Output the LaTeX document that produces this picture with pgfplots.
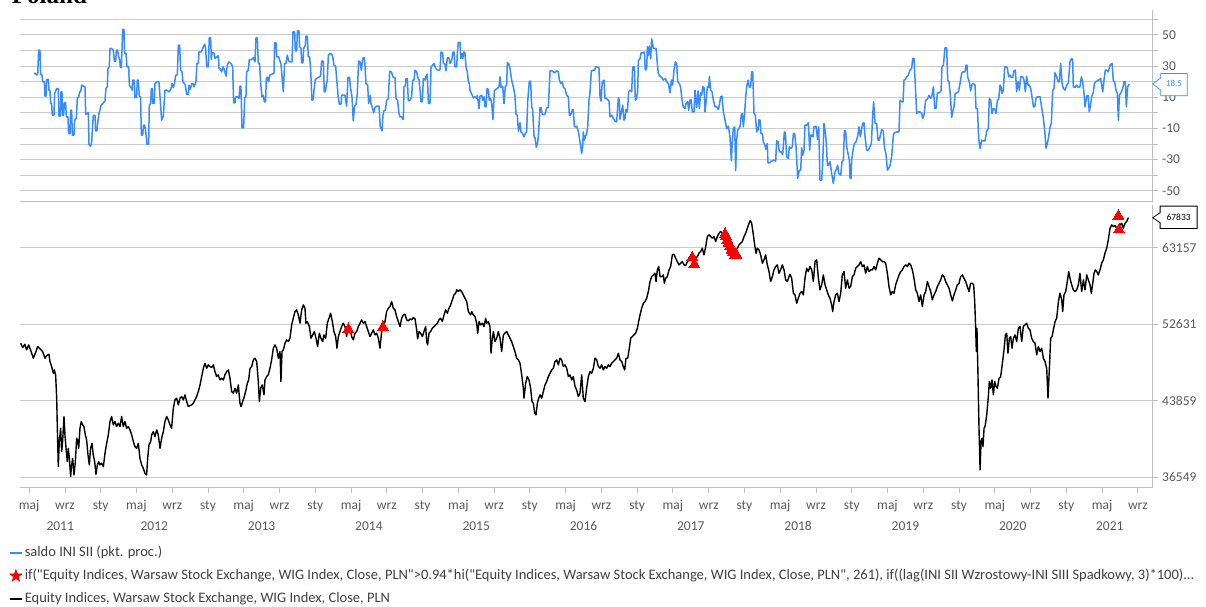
\documentclass[border=0pt]{standalone}
\usepackage{pgfplots}
\pgfplotsset{compat=1.18}
\usepackage{fontspec}
\setmainfont{Carlito}
\newfontfamily\legfont{Carlito}
\newfontfamily\titleserif{Liberation Serif}
\definecolor{blueline}{RGB}{56,139,255}
\definecolor{gridgray}{RGB}{204,204,204}
\definecolor{axisgray}{RGB}{191,191,191}
\definecolor{labelgray}{RGB}{89,89,89}
\definecolor{legendgray}{RGB}{64,64,64}
\begin{document}
\begin{tikzpicture}[x=1pt,y=1pt]
\useasboundingbox (0,0) rectangle (1206,-606);
\node[anchor=base west, inner sep=0pt, font=\titleserif\bfseries\fontsize{25}{25}\selectfont] at (11.7,-3.3) {Poland};
% ---------------- upper panel ----------------
\begin{axis}[
  at={(20pt,-201pt)}, anchor=south west, scale only axis,
  width=1132.7pt, height=191pt,
  xmin=2011.248, xmax=2021.805, ymin=-56.6, ymax=66,
  axis x line*=bottom, axis y line*=right,
  axis line style={draw=axisgray, line width=0.9pt},
  xtick=\empty,
  ytick={-50,-40,-30,-20,-10,0,10,20,30,40,50,60},
  yticklabels={-50,,-30,,-10,,10,,30,,50,},
  ymajorgrids, grid style={draw=gridgray, line width=0.9pt},
  tick align=outside, major tick length=5pt,
  tick style={draw=axisgray, line width=0.9pt},
  yticklabel style={font=\fontsize{13.5}{14}\selectfont, text=labelgray, xshift=1pt},
]
\addplot[blueline, line width=1.5pt, line join=round] coordinates {
(2011.381,25.7)(2011.403,24.2)(2011.413,24.8)(2011.422,40.2)(2011.434,40.2)(2011.440,24.8)(2011.453,24.2)(2011.459,19.9)(2011.475,19.9)(2011.481,10.7)(2011.490,10.7)(2011.496,21.4)(2011.512,21.4)(2011.518,14.5)(2011.527,14.5)(2011.534,6.0)(2011.543,6.0)(2011.549,-1.5)(2011.565,-1.5)(2011.571,12.4)(2011.590,15.6)(2011.605,15.6)(2011.611,-2.1)(2011.624,-2.1)(2011.630,13.5)(2011.639,13.5)(2011.645,-1.5)(2011.655,-1.5)(2011.661,6.4)(2011.673,6.4)(2011.680,-2.6)(2011.695,-2.6)(2011.701,-13.3)(2011.714,-13.3)(2011.720,1.7)(2011.729,1.7)(2011.736,-14.3)(2011.751,-14.3)(2011.757,-4.7)(2011.773,-3.6)(2011.782,9.2)(2011.795,10.3)(2011.804,13.5)(2011.813,13.5)(2011.823,17.8)(2011.838,17.1)(2011.854,16.7)(2011.860,-0.9)(2011.875,-0.4)(2011.885,0.2)(2011.891,-20.3)(2011.906,-21.4)(2011.916,-18.6)(2011.931,-1.7)(2011.947,-1.7)(2011.953,-11.6)(2011.965,-11.6)(2011.972,-6.4)(2011.984,-0.4)(2011.993,1.7)(2012.003,4.7)(2012.021,6.0)(2012.040,7.7)(2012.049,15.6)(2012.062,16.7)(2012.068,28.4)(2012.080,29.5)(2012.087,41.3)(2012.102,41.3)(2012.112,40.6)(2012.118,40.2)(2012.127,33.2)(2012.140,33.2)(2012.146,40.2)(2012.158,40.2)(2012.167,35.9)(2012.177,34.2)(2012.183,29.5)(2012.192,28.9)(2012.198,39.1)(2012.205,53.5)(2012.217,53.5)(2012.223,38.1)(2012.236,38.1)(2012.245,29.5)(2012.261,29.5)(2012.267,17.8)(2012.282,16.3)(2012.295,14.5)(2012.298,21.0)(2012.313,21.0)(2012.320,9.8)(2012.335,9.8)(2012.341,21.0)(2012.351,21.0)(2012.360,10.7)(2012.372,10.3)(2012.379,-14.3)(2012.391,-14.3)(2012.400,-7.9)(2012.410,-7.9)(2012.419,-11.8)(2012.431,-20.1)(2012.447,-20.1)(2012.453,4.9)(2012.466,6.0)(2012.472,15.6)(2012.481,15.6)(2012.487,6.0)(2012.500,6.0)(2012.506,18.8)(2012.522,19.9)(2012.543,19.9)(2012.553,10.3)(2012.568,-4.7)(2012.584,-2.1)(2012.599,14.5)(2012.615,14.5)(2012.640,13.5)(2012.655,15.6)(2012.665,18.8)(2012.677,16.3)(2012.689,19.2)(2012.699,24.2)(2012.714,24.2)(2012.724,43.4)(2012.736,43.4)(2012.745,27.4)(2012.758,26.3)(2012.767,19.9)(2012.779,18.8)(2012.789,17.8)(2012.801,11.8)(2012.817,11.8)(2012.823,17.8)(2012.832,15.0)(2012.842,16.7)(2012.848,18.8)(2012.860,18.8)(2012.870,16.7)(2012.888,19.9)(2012.897,31.7)(2012.910,31.7)(2012.916,39.1)(2012.938,39.1)(2012.950,41.3)(2012.957,42.4)(2012.969,44.1)(2012.978,41.3)(2012.988,29.5)(2013.003,29.5)(2013.012,48.3)(2013.025,48.3)(2013.031,34.2)(2013.037,38.5)(2013.056,38.5)(2013.065,34.9)(2013.081,35.9)(2013.096,36.6)(2013.103,28.4)(2013.112,28.4)(2013.127,26.3)(2013.140,29.5)(2013.152,27.8)(2013.168,23.5)(2013.180,30.6)(2013.193,32.7)(2013.205,32.1)(2013.215,31.7)(2013.230,29.5)(2013.239,6.4)(2013.252,6.4)(2013.258,10.3)(2013.277,10.3)(2013.289,9.2)(2013.298,17.1)(2013.307,17.1)(2013.317,-9.6)(2013.332,-9.6)(2013.342,9.6)(2013.354,10.3)(2013.360,26.3)(2013.376,27.4)(2013.385,34.2)(2013.407,34.2)(2013.423,35.5)(2013.438,32.7)(2013.447,48.1)(2013.460,48.1)(2013.469,31.7)(2013.481,31.7)(2013.491,18.8)(2013.503,10.3)(2013.516,11.3)(2013.525,7.1)(2013.537,7.1)(2013.544,22.7)(2013.556,22.7)(2013.565,19.9)(2013.575,24.2)(2013.593,24.8)(2013.615,25.2)(2013.621,44.9)(2013.634,44.9)(2013.640,35.9)(2013.659,35.9)(2013.668,33.8)(2013.680,31.7)(2013.690,23.1)(2013.702,13.5)(2013.714,31.7)(2013.727,31.7)(2013.739,37.0)(2013.752,33.4)(2013.764,32.7)(2013.783,32.7)(2013.792,52.0)(2013.808,52.0)(2013.814,39.8)(2013.827,39.8)(2013.833,52.6)(2013.848,52.6)(2013.854,42.4)(2013.867,41.3)(2013.873,32.1)(2013.885,32.1)(2013.892,41.3)(2013.907,43.4)(2013.913,49.2)(2013.926,49.2)(2013.935,35.9)(2013.948,35.9)(2013.957,27.4)(2013.969,8.1)(2013.982,8.6)(2013.988,14.5)(2014.000,21.4)(2014.013,22.0)(2014.028,22.7)(2014.038,23.1)(2014.050,23.5)(2014.059,33.2)(2014.075,33.2)(2014.084,13.5)(2014.094,13.5)(2014.100,16.7)(2014.112,21.0)(2014.122,37.0)(2014.137,38.1)(2014.153,37.6)(2014.162,36.4)(2014.174,30.6)(2014.190,29.9)(2014.199,22.0)(2014.212,11.3)(2014.224,5.6)(2014.240,5.6)(2014.246,11.3)(2014.277,11.3)(2014.292,4.3)(2014.305,22.7)(2014.320,22.7)(2014.327,16.7)(2014.342,10.3)(2014.354,-5.1)(2014.367,4.3)(2014.380,5.6)(2014.391,11.8)(2014.404,33.2)(2014.417,32.7)(2014.429,27.4)(2014.442,34.9)(2014.457,35.5)(2014.463,30.6)(2014.473,18.4)(2014.488,18.4)(2014.497,6.0)(2014.513,11.3)(2014.519,6.0)(2014.535,2.8)(2014.544,0.0)(2014.557,3.4)(2014.572,4.3)(2014.594,4.3)(2014.606,-9.0)(2014.622,-11.6)(2014.631,-1.5)(2014.640,1.3)(2014.653,1.7)(2014.665,8.1)(2014.681,9.2)(2014.693,26.7)(2014.709,26.3)(2014.724,23.1)(2014.743,22.5)(2014.752,9.2)(2014.767,8.1)(2014.780,-0.4)(2014.790,-2.6)
(2014.805,-2.6)(2014.821,-4.3)(2014.827,16.7)(2014.839,17.1)(2014.846,22.0)(2014.858,22.0)(2014.867,7.7)(2014.883,8.1)(2014.898,10.3)(2014.908,21.0)(2014.920,21.0)(2014.930,27.4)(2014.945,26.3)(2014.954,23.1)(2014.967,21.0)(2014.976,15.0)(2014.985,7.1)(2014.998,7.1)(2015.007,22.0)(2015.023,21.0)(2015.032,23.5)(2015.044,24.8)(2015.054,6.0)(2015.069,6.0)(2015.079,29.5)(2015.094,30.6)(2015.107,31.7)(2015.116,29.5)(2015.131,27.8)(2015.147,27.4)(2015.162,27.4)(2015.172,39.1)(2015.187,38.5)(2015.194,31.7)(2015.209,31.2)(2015.218,27.0)(2015.231,35.3)(2015.246,35.3)(2015.256,31.7)(2015.271,33.4)(2015.281,38.7)(2015.293,39.1)(2015.302,29.5)(2015.318,29.5)(2015.324,38.1)(2015.333,45.3)(2015.349,45.3)(2015.355,34.9)(2015.367,38.1)(2015.374,34.9)(2015.386,39.1)(2015.395,38.5)(2015.405,29.5)(2015.417,26.3)(2015.427,19.9)(2015.436,18.8)(2015.442,14.5)(2015.458,12.0)(2015.473,9.6)(2015.489,10.3)(2015.504,9.2)(2015.510,11.3)(2015.526,2.8)(2015.535,10.7)(2015.551,11.3)(2015.560,8.1)(2015.573,10.3)(2015.582,3.9)(2015.591,3.9)(2015.601,15.6)(2015.613,15.0)(2015.622,8.1)(2015.635,9.2)(2015.644,6.0)(2015.656,-4.3)(2015.669,14.1)(2015.681,15.0)(2015.697,15.6)(2015.712,16.7)(2015.722,23.1)(2015.731,16.3)(2015.747,17.1)(2015.759,6.0)(2015.771,17.1)(2015.784,17.8)(2015.790,32.1)(2015.802,31.7)(2015.815,28.4)(2015.830,21.0)(2015.846,16.7)(2015.861,11.3)(2015.871,-1.1)(2015.883,-1.5)(2015.893,-11.8)(2015.908,-6.4)(2015.917,-12.2)(2015.933,-13.3)(2015.945,-15.4)(2015.958,-13.3)(2015.970,-12.2)(2015.980,7.5)(2015.995,20.3)(2016.007,20.3)(2016.017,3.9)(2016.026,2.1)(2016.039,-15.4)(2016.048,-16.0)(2016.060,-22.2)(2016.070,-20.1)(2016.079,-15.0)(2016.095,3.4)(2016.104,3.4)(2016.116,-1.1)(2016.135,-1.1)(2016.144,-0.4)(2016.157,3.4)(2016.172,3.4)(2016.188,27.0)(2016.203,27.0)(2016.219,26.3)(2016.234,25.7)(2016.250,27.0)(2016.265,26.3)(2016.275,21.0)(2016.287,18.8)(2016.303,19.9)(2016.312,16.3)(2016.328,15.6)(2016.343,11.3)(2016.359,10.3)(2016.368,-1.5)(2016.380,-1.5)(2016.396,2.1)(2016.405,2.1)(2016.415,-9.0)(2016.427,-9.0)(2016.436,-8.6)(2016.452,-12.2)(2016.461,-15.8)(2016.470,-20.1)(2016.483,-26.1)(2016.492,-21.8)(2016.498,-12.2)(2016.508,-17.5)(2016.517,-15.4)(2016.529,-13.3)(2016.539,-9.0)(2016.551,8.1)(2016.561,13.5)(2016.573,27.0)(2016.592,27.4)(2016.604,27.4)(2016.613,29.5)(2016.623,29.5)(2016.644,29.1)(2016.654,10.3)(2016.663,7.5)(2016.675,19.9)(2016.691,21.0)(2016.700,9.2)(2016.716,9.2)(2016.738,7.5)(2016.747,-2.6)(2016.762,-1.5)(2016.778,-3.6)(2016.794,-5.3)(2016.809,-5.8)(2016.825,9.8)(2016.834,8.1)(2016.840,-4.1)(2016.856,1.7)(2016.865,4.9)(2016.877,-4.7)(2016.887,-3.6)(2016.896,2.1)(2016.909,0.6)(2016.921,13.5)(2016.933,14.5)(2016.949,13.5)(2016.958,29.5)(2016.974,29.5)(2016.983,8.1)(2016.995,9.2)(2017.005,14.5)(2017.011,33.4)(2017.027,34.9)(2017.036,38.5)(2017.051,38.5)(2017.067,39.1)(2017.076,27.4)(2017.089,28.4)(2017.095,42.4)(2017.104,37.0)(2017.114,42.8)(2017.126,34.7)(2017.135,47.5)(2017.151,41.3)(2017.176,41.3)(2017.188,31.7)(2017.197,25.2)(2017.213,23.5)(2017.229,22.7)(2017.244,21.0)(2017.263,22.0)(2017.275,19.9)(2017.291,18.8)(2017.306,12.8)(2017.319,21.0)(2017.331,17.8)(2017.343,27.4)(2017.356,32.7)(2017.368,31.7)(2017.378,19.9)(2017.393,18.8)(2017.405,16.7)(2017.418,8.1)(2017.430,3.9)(2017.446,2.8)(2017.455,6.0)(2017.471,7.1)(2017.480,1.7)(2017.492,8.1)(2017.502,8.6)(2017.514,0.6)(2017.530,0.6)(2017.539,14.5)(2017.548,8.6)(2017.555,3.4)(2017.567,14.1)(2017.580,2.8)(2017.592,12.8)(2017.601,11.3)(2017.611,16.7)(2017.623,16.3)(2017.632,0.6)(2017.642,7.1)(2017.654,16.7)(2017.667,16.3)(2017.673,23.5)(2017.685,14.5)(2017.698,13.5)(2017.710,8.1)(2017.726,3.9)(2017.741,3.9)(2017.757,2.1)(2017.766,4.9)(2017.778,10.3)(2017.791,10.7)(2017.803,0.6)(2017.819,-4.7)(2017.834,-10.1)(2017.850,-8.6)(2017.865,-15.4)(2017.878,-30.8)(2017.887,-17.5)(2017.896,-10.1)(2017.909,-9.0)(2017.918,-37.2)(2017.927,-17.5)(2017.937,-11.1)(2017.946,-10.1)(2017.959,-9.0)(2017.971,-0.9)(2017.980,-0.4)(2017.990,-9.0)(2018.002,0.0)(2018.011,9.8)(2018.021,16.7)(2018.033,21.0)(2018.046,16.3)(2018.058,16.7)(2018.067,26.3)(2018.077,26.3)
(2018.089,-0.4)(2018.101,-1.5)(2018.114,-12.2)(2018.126,-11.1)(2018.136,-4.3)(2018.145,-4.7)(2018.154,-13.3)(2018.167,-13.3)(2018.176,-18.6)(2018.188,-20.1)(2018.201,-23.5)(2018.213,-19.7)(2018.219,-32.1)(2018.232,-32.1)(2018.244,-31.4)(2018.260,-30.8)(2018.275,-30.4)(2018.291,-31.0)(2018.300,-18.0)(2018.313,-18.6)(2018.325,-25.0)(2018.341,-25.0)(2018.356,-26.7)(2018.372,-12.2)(2018.381,-12.8)(2018.393,-28.2)(2018.409,-29.3)(2018.418,-21.8)(2018.431,-22.9)(2018.446,-21.8)(2018.456,-13.3)(2018.468,-13.3)(2018.481,-21.8)(2018.496,-42.1)(2018.512,-36.8)(2018.524,-36.8)(2018.533,-22.5)(2018.543,-27.2)(2018.555,-23.9)(2018.564,-7.9)(2018.580,-7.9)(2018.595,-6.4)(2018.608,-23.9)(2018.617,-14.3)(2018.626,-14.3)(2018.639,-15.4)(2018.648,-9.0)(2018.667,-8.6)(2018.682,-17.1)(2018.692,-9.0)(2018.704,-43.2)(2018.720,-43.2)(2018.729,-32.5)(2018.741,-6.8)(2018.754,-12.2)(2018.763,-19.7)(2018.773,-33.6)(2018.782,-33.6)(2018.797,-31.4)(2018.813,-38.9)(2018.828,-45.3)(2018.844,-37.9)(2018.853,-36.8)(2018.869,-33.6)(2018.878,-38.9)(2018.897,-40.0)(2018.909,-31.4)(2018.922,-30.4)(2018.931,-11.6)(2018.943,-11.6)(2018.953,-21.8)(2018.968,-27.2)(2018.978,-30.4)(2018.984,-42.1)(2018.993,-42.1)(2018.999,-30.4)(2019.012,-23.9)(2019.024,-19.7)(2019.040,-18.6)(2019.055,-15.0)(2019.068,-9.0)(2019.080,-15.4)(2019.092,-10.7)(2019.102,-6.8)(2019.114,-6.4)(2019.124,-15.4)(2019.139,-23.9)(2019.155,-23.9)(2019.170,-21.8)(2019.183,-19.7)(2019.195,-1.5)(2019.204,7.1)(2019.217,-6.8)(2019.232,-6.8)(2019.245,-17.5)(2019.257,-17.5)(2019.270,-13.3)(2019.279,-10.7)(2019.294,-11.6)(2019.304,-21.8)(2019.319,-26.5)(2019.332,-36.8)(2019.344,-35.7)(2019.357,-33.6)(2019.372,-28.2)(2019.388,-14.3)(2019.397,-12.8)(2019.419,-12.2)(2019.440,-12.2)(2019.450,8.1)(2019.465,7.1)(2019.478,7.1)(2019.487,21.0)(2019.499,21.4)(2019.512,23.1)(2019.527,24.2)(2019.543,27.4)(2019.558,28.4)(2019.568,34.9)(2019.580,34.9)(2019.593,17.1)(2019.605,-0.4)(2019.621,0.6)(2019.636,0.6)(2019.652,-0.4)(2019.661,-3.6)(2019.673,-1.5)(2019.689,8.1)(2019.704,8.6)(2019.720,11.3)(2019.736,9.2)(2019.748,11.3)(2019.761,16.7)(2019.773,2.8)(2019.785,2.8)(2019.798,12.8)(2019.816,12.8)(2019.832,14.1)(2019.841,29.5)(2019.854,30.6)(2019.869,41.7)(2019.885,41.7)(2019.894,21.0)(2019.906,19.9)(2019.916,13.5)(2019.922,8.1)(2019.931,-3.0)(2019.944,1.7)(2019.953,3.9)(2019.963,12.4)(2019.978,12.8)(2019.994,13.5)(2020.009,18.8)(2020.025,25.7)(2020.040,26.3)(2020.056,26.3)(2020.065,30.6)(2020.074,30.6)(2020.080,23.1)(2020.096,19.9)(2020.108,14.1)(2020.121,18.4)(2020.133,18.8)(2020.149,17.8)(2020.158,2.8)(2020.171,2.8)(2020.183,-16.5)(2020.196,-22.9)(2020.211,-17.5)(2020.220,-18.0)(2020.242,-18.0)(2020.258,-11.6)(2020.273,-10.1)(2020.282,9.2)(2020.295,8.1)(2020.307,-0.4)(2020.320,2.8)(2020.335,2.1)(2020.344,-0.4)(2020.357,8.1)(2020.369,8.6)(2020.382,17.8)(2020.391,16.7)(2020.400,12.4)(2020.413,14.5)(2020.425,29.5)(2020.438,29.5)(2020.450,28.9)(2020.462,23.1)(2020.475,24.2)(2020.487,22.7)(2020.500,22.7)(2020.512,27.0)(2020.525,27.4)(2020.537,13.5)(2020.550,19.9)(2020.562,14.5)(2020.574,23.1)(2020.593,23.1)(2020.605,21.0)(2020.618,13.5)(2020.630,23.5)(2020.643,17.8)(2020.655,17.8)(2020.668,15.6)(2020.680,10.3)(2020.693,3.9)(2020.705,3.9)(2020.717,9.2)(2020.730,10.3)(2020.755,10.3)(2020.770,3.4)(2020.786,-3.6)(2020.798,-11.1)(2020.811,-22.9)(2020.823,-19.7)(2020.835,-15.4)(2020.848,-9.0)(2020.860,-6.8)(2020.873,14.5)(2020.885,15.6)(2020.894,25.7)(2020.910,23.1)(2020.925,19.9)(2020.935,19.9)(2020.947,31.7)(2020.960,18.8)(2020.972,15.6)(2020.988,14.5)(2021.003,17.8)(2021.019,19.2)(2021.034,32.7)(2021.050,34.9)(2021.059,34.2)(2021.065,16.7)(2021.081,16.3)(2021.096,17.8)(2021.112,16.3)(2021.127,16.7)(2021.140,23.1)(2021.152,19.9)(2021.165,12.4)(2021.174,3.9)(2021.190,10.7)(2021.202,11.3)(2021.214,0.6)(2021.227,6.0)(2021.236,10.3)(2021.252,13.5)(2021.261,18.8)(2021.273,19.9)(2021.289,20.5)(2021.308,21.4)(2021.320,22.0)(2021.339,13.5)(2021.351,21.0)(2021.363,27.4)(2021.376,27.4)(2021.391,26.3)(2021.407,30.6)(2021.426,31.7)(2021.438,20.5)(2021.450,19.9)(2021.463,14.5)(2021.475,12.4)(2021.485,-4.7)(2021.494,11.3)(2021.506,12.4)(2021.525,15.6)(2021.537,19.9)(2021.550,19.9)(2021.559,3.9)(2021.571,16.7)(2021.587,18.5)
};
\coordinate (cb) at (axis cs:2021.805,18.5);
\end{axis}
% ---------------- lower panel ----------------
\begin{axis}[
  at={(20pt,-487.7pt)}, anchor=south west, scale only axis,
  width=1132.7pt, height=282.7pt,
  xmin=2011.248, xmax=2021.805, ymode=log, ymin=35655, ymax=69911,
  axis x line*=bottom, axis y line*=right,
  axis line style={draw=axisgray, line width=0.9pt},
  ytick={36549,43859,52631,63157},
  yticklabels={36549,43859,52631,63157},
  ymajorgrids, grid style={draw=gridgray, line width=0.9pt},
  tick align=outside, major tick length=5pt,
  tick style={draw=axisgray, line width=0.9pt},
  yticklabel style={font=\fontsize{13.5}{14}\selectfont, text=labelgray, xshift=1pt},
  xtick={2011.333,2011.667,2012,2012.333,2012.667,2013,2013.333,2013.667,2014,2014.333,2014.667,2015,2015.333,2015.667,2016,2016.333,2016.667,2017,2017.333,2017.667,2018,2018.333,2018.667,2019,2019.333,2019.667,2020,2020.333,2020.667,2021,2021.333,2021.667},
  xticklabels={maj,wrz,sty,maj,wrz,sty,maj,wrz,sty,maj,wrz,sty,maj,wrz,sty,maj,wrz,sty,maj,wrz,sty,maj,wrz,sty,maj,wrz,sty,maj,wrz,sty,maj,wrz},
  xticklabel style={font=\fontsize{13.5}{14}\selectfont, text=labelgray, text height=10pt, text depth=3pt, yshift=-3.5pt},
  extra x ticks={2011.623,2012.5,2013.5,2014.5,2015.5,2016.5,2017.5,2018.5,2019.5,2020.5,2021.405},
  extra x tick labels={2011,2012,2013,2014,2015,2016,2017,2018,2019,2020,2021},
  extra x tick style={major tick length=0pt, xticklabel style={yshift=-25.5pt}},
  legend style={at={(-0.0097,-0.2062)}, anchor=north west, draw=none, fill=none,
    inner sep=0pt, outer sep=0pt, row sep=9pt, column sep=1pt,
    font=\fontsize{14.5}{16}\selectfont,
    nodes={text height=11pt, text depth=3pt, inner ysep=0pt, inner xsep=1pt}},
  legend cell align=left,
  legend image code/.code={\draw[#1] (0pt,0pt) -- (12pt,0pt);},
]
\addlegendimage{draw=blueline, line width=1.8pt}
\addlegendentry{\textcolor{legendgray}{saldo INI SII (pkt. proc.)}}
\addlegendimage{legend image code/.code={\fill[red] (6pt,6.5pt) -- (4.47pt,2.10pt) -- (-0.18pt,2.01pt) -- (3.53pt,-0.80pt) -- (2.18pt,-5.26pt) -- (6pt,-2.6pt) -- (9.82pt,-5.26pt) -- (8.47pt,-0.80pt) -- (12.18pt,2.01pt) -- (7.53pt,2.10pt) -- cycle;}}
\addlegendentry{\textcolor{legendgray}{\legfont if("Equity Indices, Warsaw Stock Exchange, WIG Index, Close, PLN">0.94*hi("Equity Indices, Warsaw Stock Exchange, WIG Index, Close, PLN", 261), if((lag(INI SII Wzrostowy-INI SIII Spadkowy, 3)*100)...}}
\addlegendimage{draw=black, line width=1.8pt}
\addlegendentry{\textcolor{legendgray}{Equity Indices, Warsaw Stock Exchange, WIG Index, Close, PLN}}
\addplot[black, line width=1.4pt, line join=round, forget plot] coordinates {
(2011.254,50291)(2011.273,49775)(2011.294,50170)(2011.310,49499)(2011.329,50092)(2011.357,49107)(2011.372,48526)(2011.397,49303)(2011.412,49893)(2011.434,49617)(2011.459,49303)(2011.481,48526)(2011.496,48835)(2011.518,48990)(2011.527,48142)(2011.543,47571)(2011.559,46822)(2011.568,47195)(2011.580,46637)(2011.590,44115)(2011.596,41072)(2011.605,37487)(2011.614,39788)(2011.627,41072)(2011.636,38851)(2011.645,39788)(2011.658,42230)(2011.667,40425)(2011.677,39161)(2011.689,37937)(2011.698,39161)(2011.708,38239)(2011.720,36605)(2011.729,37637)(2011.739,38239)(2011.751,36751)(2011.764,37937)(2011.776,40105)(2011.785,39945)(2011.795,39161)(2011.807,41072)(2011.819,41730)(2011.832,41400)(2011.844,41236)(2011.857,40425)(2011.869,39945)(2011.882,38544)(2011.894,37637)(2011.906,39161)(2011.919,39630)(2011.931,38544)(2011.944,37937)(2011.956,36809)(2011.969,37637)(2011.981,37937)(2011.993,37637)(2012.009,37787)(2012.025,37487)(2012.040,38697)(2012.056,39630)(2012.071,40425)(2012.087,41730)(2012.102,42230)(2012.118,41400)(2012.133,41730)(2012.149,41236)(2012.164,41565)(2012.180,41236)(2012.195,42230)(2012.211,41236)(2012.226,41730)(2012.242,41072)(2012.258,41236)(2012.273,40909)(2012.289,40425)(2012.304,39788)(2012.320,39317)(2012.335,39161)(2012.351,39630)(2012.366,38239)(2012.382,37637)(2012.397,37339)(2012.413,36896)(2012.428,36751)(2012.438,38239)(2012.450,39473)(2012.466,39788)(2012.475,40425)(2012.491,40747)(2012.506,40264)(2012.522,40909)(2012.537,40425)(2012.553,39161)(2012.568,40105)(2012.584,40747)(2012.599,41730)(2012.615,42230)(2012.630,41896)(2012.646,41400)(2012.661,41072)(2012.677,43077)(2012.692,43940)(2012.708,44115)(2012.724,43420)(2012.739,44115)(2012.755,44291)(2012.770,43940)(2012.786,44467)(2012.801,43766)(2012.817,43247)(2012.832,43350)(2012.848,43420)(2012.863,43592)(2012.879,43940)(2012.894,44291)(2012.910,44822)(2012.926,45539)(2012.941,46451)(2012.957,47383)(2012.972,47951)(2012.988,47383)(2013.003,47761)(2013.019,47571)(2013.034,47458)(2013.050,47761)(2013.065,47008)(2013.081,46451)(2013.096,46637)(2013.112,46084)(2013.127,46268)(2013.143,46084)(2013.158,46637)(2013.174,47008)(2013.190,47195)(2013.205,46268)(2013.221,44822)(2013.236,44644)(2013.252,45179)(2013.267,44644)(2013.283,45539)(2013.298,43592)(2013.308,43247)(2013.323,43766)(2013.339,44291)(2013.354,44999)(2013.367,45720)(2013.379,46084)(2013.392,47383)(2013.407,47571)(2013.423,48334)(2013.438,48526)(2013.454,48142)(2013.469,45902)(2013.479,43766)(2013.491,45179)(2013.506,45539)(2013.522,44467)(2013.531,46084)(2013.547,46451)(2013.562,46637)(2013.578,47383)(2013.593,48334)(2013.609,49696)(2013.625,50092)(2013.640,49696)(2013.656,48526)(2013.671,49303)(2013.680,45902)(2013.690,49303)(2013.702,49499)(2013.718,50291)(2013.733,50691)(2013.749,50491)(2013.764,50894)(2013.780,52537)(2013.795,53378)(2013.811,54232)(2013.826,54447)(2013.842,53803)(2013.858,52746)(2013.873,54447)(2013.889,55100)(2013.904,54664)(2013.913,52746)(2013.926,52956)(2013.945,52329)(2013.960,50894)(2013.976,51300)(2013.991,51709)(2014.007,50894)(2014.022,49893)(2014.038,51503)(2014.053,50894)(2014.069,50491)(2014.081,51300)(2014.097,50894)(2014.112,52746)(2014.128,53378)(2014.143,54017)(2014.159,52956)(2014.174,51709)(2014.190,51095)(2014.202,49696)(2014.215,51095)(2014.230,51709)(2014.246,52329)(2014.261,52746)(2014.277,52329)(2014.292,51095)(2014.308,52537)(2014.324,52121)(2014.339,51095)(2014.355,50691)(2014.370,51503)(2014.386,51709)(2014.401,52329)(2014.417,52746)(2014.432,53166)(2014.448,52746)(2014.463,52956)(2014.479,52329)(2014.494,51709)(2014.510,51095)(2014.526,51503)(2014.541,51914)(2014.557,51300)(2014.572,51503)(2014.588,50894)(2014.603,49696)(2014.619,51709)(2014.634,52329)(2014.650,52956)(2014.665,54232)(2014.681,54664)(2014.696,54881)(2014.712,55540)(2014.727,54664)(2014.743,54447)(2014.758,53590)(2014.774,52956)(2014.790,52329)
(2014.805,53378)(2014.821,53803)(2014.836,53888)(2014.852,53166)(2014.867,53040)(2014.883,53293)(2014.898,53166)(2014.914,53463)(2014.930,53293)(2014.945,51914)(2014.954,50813)(2014.967,51709)(2014.982,51503)(2014.998,51095)(2015.013,51709)(2015.029,52329)(2015.038,50491)(2015.047,50092)(2015.060,51503)(2015.075,51709)(2015.091,52121)(2015.107,52329)(2015.122,52537)(2015.138,52746)(2015.153,53166)(2015.169,53378)(2015.184,52956)(2015.200,53803)(2015.215,54447)(2015.231,54017)(2015.246,54664)(2015.262,55100)(2015.277,55760)(2015.293,56429)(2015.308,56654)(2015.318,57106)(2015.333,56879)(2015.349,57106)(2015.364,56879)(2015.380,56429)(2015.395,55983)(2015.411,55540)(2015.427,54232)(2015.436,54017)(2015.448,53803)(2015.458,54232)(2015.473,53803)(2015.489,53590)(2015.504,52746)(2015.514,51503)(2015.526,52956)(2015.541,52537)(2015.557,52746)(2015.573,52329)(2015.588,53378)(2015.597,52746)(2015.613,52956)(2015.628,52329)(2015.638,49107)(2015.647,50491)(2015.660,51709)(2015.675,50491)(2015.691,50894)(2015.706,51709)(2015.722,50894)(2015.737,49303)(2015.753,51300)(2015.768,51503)(2015.784,51709)(2015.799,51300)(2015.815,50894)(2015.830,50491)(2015.846,49893)(2015.861,49303)(2015.877,48526)(2015.893,48334)(2015.908,47951)(2015.924,46637)(2015.939,45179)(2015.945,44115)(2015.961,45720)(2015.976,46451)(2015.992,46084)(2016.007,45179)(2016.020,43766)(2016.032,43592)(2016.045,42566)(2016.057,42398)(2016.070,43592)(2016.082,44115)(2016.095,44467)(2016.110,44115)(2016.126,44822)(2016.141,45539)(2016.157,45902)(2016.172,46451)(2016.188,46822)(2016.203,47195)(2016.219,47383)(2016.234,48142)(2016.250,48334)(2016.265,47761)(2016.281,48526)(2016.296,48334)(2016.312,47571)(2016.328,47761)(2016.343,47383)(2016.359,46451)(2016.374,46637)(2016.390,46084)(2016.405,46451)(2016.421,45358)(2016.436,44999)(2016.452,44291)(2016.467,44644)(2016.483,46637)(2016.498,44115)(2016.514,43766)(2016.529,45179)(2016.545,46451)(2016.561,47008)(2016.576,46822)(2016.592,47383)(2016.607,48526)(2016.623,48334)(2016.638,47571)(2016.654,47383)(2016.669,47761)(2016.685,47195)(2016.700,47571)(2016.716,47383)(2016.731,47761)(2016.747,47571)(2016.762,47951)(2016.778,48142)(2016.794,48334)(2016.809,48526)(2016.825,49107)(2016.840,48334)(2016.856,48142)(2016.871,47571)(2016.884,47195)(2016.896,48526)(2016.912,48526)(2016.927,49696)(2016.940,50894)(2016.955,51095)(2016.971,51300)(2016.986,51503)(2017.002,52121)(2017.014,52956)(2017.027,53803)(2017.042,54664)(2017.058,55318)(2017.073,55540)(2017.089,55983)(2017.104,56879)(2017.120,58250)(2017.135,58947)(2017.151,59183)(2017.166,59417)(2017.176,58250)(2017.188,59891)(2017.201,60368)(2017.213,58947)(2017.229,58947)(2017.244,59183)(2017.253,58019)(2017.266,58715)(2017.281,58947)(2017.297,59891)(2017.312,60368)(2017.328,62071)(2017.343,62170)(2017.359,61580)(2017.374,61093)(2017.390,60610)(2017.405,60851)(2017.421,61093)(2017.437,60610)(2017.452,60510)(2017.468,61093)(2017.483,61336)(2017.499,61580)(2017.514,61825)(2017.530,61336)(2017.545,61580)(2017.561,61825)(2017.576,62318)(2017.592,62566)(2017.607,63064)(2017.623,62071)(2017.639,63315)(2017.654,64840)(2017.670,65100)(2017.685,64840)(2017.701,64584)(2017.716,64840)(2017.732,64074)(2017.747,64840)(2017.763,65358)(2017.778,65619)(2017.794,65358)(2017.810,64840)(2017.825,64328)(2017.841,64074)(2017.856,63567)(2017.872,63315)(2017.887,63064)(2017.903,62566)(2017.918,62814)(2017.934,63064)(2017.949,63567)(2017.965,63819)(2017.980,64074)(2017.996,64840)(2018.011,65358)(2018.027,66142)(2018.043,66935)(2018.055,67362)(2018.067,66935)(2018.083,65100)(2018.095,63567)(2018.108,62318)(2018.120,63064)(2018.136,62814)(2018.151,62071)(2018.167,60851)(2018.182,61336)(2018.198,62071)(2018.213,60610)(2018.229,59654)(2018.244,58250)(2018.260,58947)(2018.275,59891)(2018.291,60368)(2018.306,60610)(2018.322,59417)(2018.337,59891)(2018.353,60610)(2018.369,59891)(2018.384,58482)(2018.400,58250)(2018.415,58947)
(2018.425,59277)(2018.440,58715)(2018.456,56654)(2018.471,56429)(2018.487,55318)(2018.502,55983)(2018.518,56654)(2018.533,56879)(2018.549,56429)(2018.564,58715)(2018.580,60130)(2018.595,59654)(2018.611,60368)(2018.627,59891)(2018.642,58250)(2018.658,61093)(2018.673,61336)(2018.689,58715)(2018.704,57106)(2018.720,57790)(2018.735,59183)(2018.751,57790)(2018.766,57106)(2018.782,56429)(2018.797,55983)(2018.813,55100)(2018.822,54232)(2018.835,55540)(2018.850,56429)(2018.866,56654)(2018.881,55540)(2018.897,56654)(2018.912,59183)(2018.928,59654)(2018.943,57333)(2018.959,58482)(2018.975,57333)(2018.990,57561)(2019.006,58947)(2019.021,59183)(2019.037,60130)(2019.052,60368)(2019.068,60610)(2019.083,61093)(2019.099,60368)(2019.114,60610)(2019.130,59417)(2019.145,60368)(2019.161,59654)(2019.176,59891)(2019.192,59891)(2019.208,60368)(2019.223,59891)(2019.239,60851)(2019.254,61580)(2019.270,61336)(2019.285,61093)(2019.301,61093)(2019.316,60851)(2019.332,59417)(2019.347,57561)(2019.363,56429)(2019.378,56879)(2019.394,56654)(2019.409,57790)(2019.425,58482)(2019.441,59183)(2019.456,59654)(2019.472,59891)(2019.487,60368)(2019.503,60610)(2019.518,60368)(2019.534,60851)(2019.549,60610)(2019.565,59891)(2019.580,58715)(2019.596,57106)(2019.611,56654)(2019.627,55540)(2019.642,56429)(2019.658,54881)(2019.674,56429)(2019.689,56879)(2019.705,58250)(2019.720,57561)(2019.736,56879)(2019.751,55760)(2019.767,56429)(2019.782,56879)(2019.798,57561)(2019.813,58019)(2019.829,58482)(2019.844,59183)(2019.860,58947)(2019.875,58250)(2019.891,57790)(2019.907,57333)(2019.922,56429)(2019.938,55628)(2019.953,56429)(2019.969,57106)(2019.984,57790)(2020.000,58019)(2020.015,58947)(2020.031,59183)(2020.046,58715)(2020.062,58250)(2020.077,57561)(2020.093,56879)(2020.108,58019)(2020.124,58019)(2020.136,57790)(2020.146,55540)(2020.155,52121)(2020.161,49303)(2020.167,52121)(2020.177,46268)(2020.186,41072)(2020.196,37190)(2020.205,39788)(2020.214,40105)(2020.223,39317)(2020.233,41072)(2020.242,41236)(2020.258,42398)(2020.273,44291)(2020.282,45902)(2020.295,45179)(2020.307,46084)(2020.320,44467)(2020.332,45902)(2020.345,45358)(2020.357,45179)(2020.373,46268)(2020.388,46451)(2020.404,47951)(2020.419,49499)(2020.432,51300)(2020.444,51503)(2020.456,49107)(2020.469,50894)(2020.481,51095)(2020.494,49696)(2020.506,50894)(2020.522,51300)(2020.537,50491)(2020.553,52121)(2020.568,52329)(2020.584,50491)(2020.599,52329)(2020.615,52537)(2020.630,52746)(2020.646,52121)(2020.661,51914)(2020.677,50894)(2020.692,50491)(2020.708,50291)(2020.724,48913)(2020.739,49893)(2020.755,49303)(2020.770,49696)(2020.786,48526)(2020.801,48142)(2020.817,47383)(2020.829,44115)(2020.842,47383)(2020.854,50894)(2020.867,51095)(2020.879,51914)(2020.895,52956)(2020.910,53378)(2020.926,55540)(2020.941,56654)(2020.957,55760)(2020.966,54232)(2020.978,56429)(2020.994,56879)(2021.009,58250)(2021.022,59654)(2021.034,58715)(2021.050,57790)(2021.065,57106)(2021.081,56879)(2021.096,57106)(2021.112,57790)(2021.127,59417)(2021.143,56879)(2021.159,58482)(2021.174,57106)(2021.190,59183)(2021.205,58482)(2021.221,57790)(2021.233,56654)(2021.246,58019)(2021.258,59417)(2021.270,59891)(2021.283,59654)(2021.298,59183)(2021.314,59891)(2021.329,60851)(2021.345,61336)(2021.360,62318)(2021.376,63064)(2021.391,64328)(2021.407,66142)(2021.423,66670)(2021.438,66406)(2021.454,66565)(2021.469,66142)(2021.485,65880)(2021.500,66670)(2021.516,66935)(2021.531,66142)(2021.547,66935)(2021.562,67201)(2021.578,67833)
};
\addplot[only marks, mark=triangle*, mark size=6.3pt, mark options={fill=red, draw=red, line width=0pt}, forget plot] coordinates {
(2014.308,51997)(2014.631,52250)(2017.514,61703)(2017.533,60659)(2017.819,65230)(2017.828,64840)(2017.840,64328)(2017.852,63819)(2017.865,63315)(2017.880,62814)(2017.896,62467)(2017.912,62071)(2017.925,62071)(2021.485,68115)(2021.491,65935)
};
\coordinate (ck) at (axis cs:2021.805,67833);
\end{axis}
% callouts
\draw[blueline, fill=white, line width=0.7pt] (cb) -- ++(8,6) -- ++(0,4.6) -- ++(26.6,0) -- ++(0,-22.3) -- ++(-26.6,0) -- ++(0,5.7) -- cycle;
\node[font=\fontsize{9}{10}\selectfont, text=blueline, inner sep=0pt] at ([xshift=21.3pt]cb) {18,5};
\draw[black, fill=white, line width=0.8pt] (ck) -- ++(7.4,5) -- ++(0,6.6) -- ++(37,0) -- ++(0,-22.3) -- ++(-37,0) -- ++(0,5.7) -- cycle;
\node[font=\fontsize{9.5}{10}\selectfont, text=black, inner sep=0pt] at ([xshift=25.9pt]ck) {67833};
\end{tikzpicture}
\end{document}
